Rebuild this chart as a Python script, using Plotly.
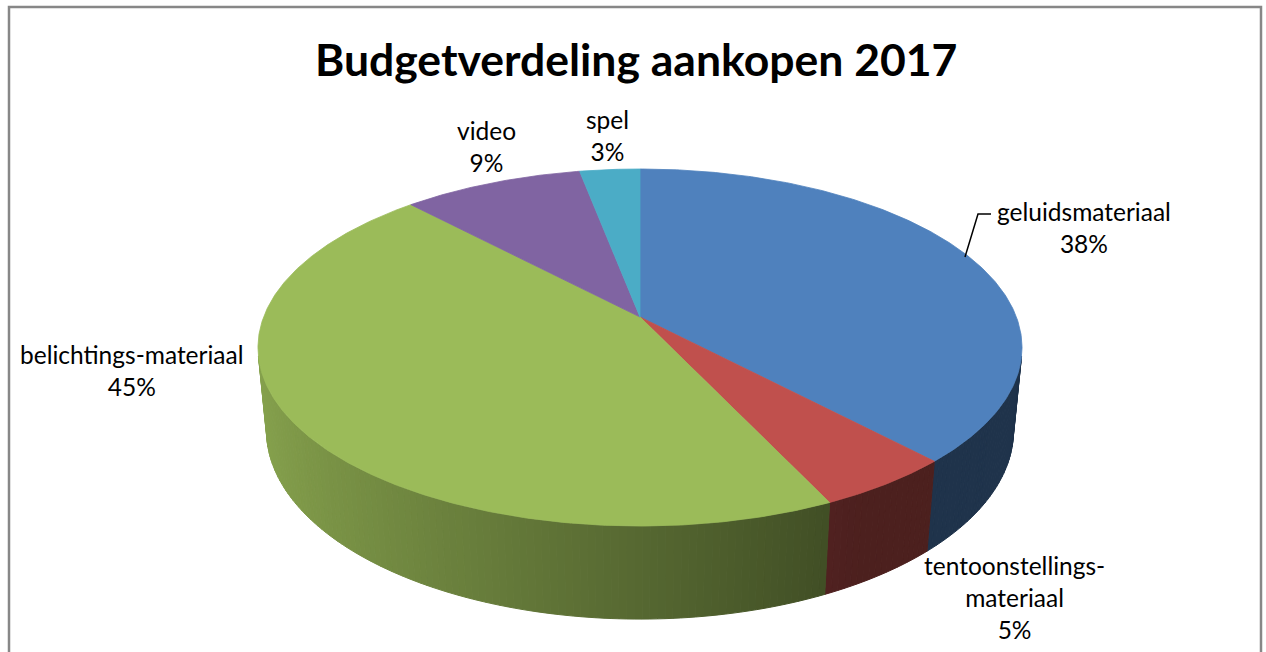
import numpy as np
import plotly.graph_objects as go

# ---------------- data ----------------
categories = ["geluidsmateriaal", "tentoonstellings-materiaal", "belichtings-materiaal", "video", "spel"]
label_lines = [["geluidsmateriaal"], ["tentoonstellings-", "materiaal"], ["belichtings-materiaal"], ["video"], ["spel"]]
values = [38, 5, 45, 9, 3]
colors = ["#4F81BD", "#C0504D", "#9BBB59", "#8064A2", "#4BACC6"]
title = "Budgetverdeling aankopen 2017"

# ---------------- 3D pie geometry (style) ----------------
W, Hpx = 1266, 652
CX, CY = 640, 317          # projected pie centre (px)
S = 376.4                  # radius scale (px)
ALPHA = np.arcsin(0.4604)  # viewing elevation
SA, CA = np.sin(ALPHA), np.cos(ALPHA)
DCAM = 5.85 * CA           # camera distance (perspective)
THICK = 0.251              # slab thickness (radius units)


def proj(theta_deg, yv):
    th = np.radians(theta_deg)
    X, Z = np.sin(th), np.cos(th)
    depth = DCAM + Z * CA - yv * SA
    up = yv * CA + Z * SA
    return CX + S * DCAM * X / depth, CY - S * DCAM * up / depth


def shade(hexcol, f):
    h = hexcol.lstrip("#")
    r, g, b = (int(h[i:i + 2], 16) for i in (0, 2, 4))
    return "rgb({},{},{})".format(int(r * f), int(g * f), int(b * f))


total = float(sum(values))
bounds = np.concatenate([[0.0], np.cumsum(values) / total * 360.0])

# visible range of the side wall
lim = np.degrees(np.arccos(-1.0 / (DCAM * CA)))
vis_lo, vis_hi = lim, 360.0 - lim

fig = go.Figure()

# side walls
for i in range(len(values)):
    a0, a1 = max(bounds[i], vis_lo), min(bounds[i + 1], vis_hi)
    if a1 <= a0:
        continue
    n = max(2, int(np.ceil((a1 - a0) / 1.0)))
    ts = np.linspace(a0, a1, n + 1)
    for k in range(n):
        t0, t1 = ts[k], ts[k + 1]
        x0t, y0t = proj(t0, 0.0)
        x1t, y1t = proj(t1, 0.0)
        x1b, y1b = proj(t1, -THICK)
        x0b, y0b = proj(t0, -THICK)
        Xn = np.sin(np.radians((t0 + t1) / 2))
        f = 0.87 - 0.47 * np.clip((Xn + 1) / 1.5, 0, 1)
        c = shade(colors[i], f)
        fig.add_trace(go.Scatter(
            x=[x0t, x1t, x1b, x0b, x0t], y=[y0t, y1t, y1b, y0b, y0t],
            mode="lines", fill="toself", fillcolor=c,
            line=dict(color=c, width=1), hoverinfo="skip", showlegend=False))

# top faces
for i in range(len(values)):
    ts = np.linspace(bounds[i], bounds[i + 1], max(4, int((bounds[i + 1] - bounds[i]) * 2)))
    px, py = proj(ts, 0.0)
    xs = np.concatenate([[CX], px, [CX]])
    ys = np.concatenate([[CY], py, [CY]])
    fig.add_trace(go.Scatter(
        x=xs, y=ys, mode="lines", fill="toself", fillcolor=colors[i],
        line=dict(color=colors[i], width=0.8), hoverinfo="skip", showlegend=False,
        name=categories[i]))

# labels (positions are layout)
label_pos = [(1084, 227), (1014, 597), (132, 370), (486, 146), (607, 135)]
for i in range(len(values)):
    pct = "{:.0f}%".format(values[i] / total * 100)
    txt = "<br>".join(label_lines[i] + [pct])
    fig.add_annotation(x=label_pos[i][0], y=label_pos[i][1], text=txt, showarrow=False,
                       xanchor="center", yanchor="middle", align="center",
                       font=dict(family="Lato", size=24.5, color="#000000"))

# leader line for first label
fig.add_shape(type="path", path="M 965 257 L 978 214 L 991 214",
              line=dict(color="#000000", width=1.5))

# chart border
fig.add_shape(type="rect", x0=9, y0=7, x1=1261, y1=700,
              line=dict(color="#878787", width=2.5), fillcolor="rgba(0,0,0,0)")

fig.add_annotation(x=636, y=58, text="<b>" + title + "</b>", showarrow=False,
                   xanchor="center", yanchor="middle",
                   font=dict(family="Lato", size=44.5, color="#000000"))

fig.update_layout(
    width=W, height=Hpx, margin=dict(l=0, r=0, t=0, b=0),
    paper_bgcolor="white", plot_bgcolor="white",
    xaxis=dict(range=[0, W], visible=False, fixedrange=True),
    yaxis=dict(range=[Hpx, 0], visible=False, fixedrange=True),
    showlegend=False,
)

fig.write_html("out.html", config={"displayModeBar": False},
               post_script="document.body.style.margin='0';document.body.style.overflow='hidden';")
